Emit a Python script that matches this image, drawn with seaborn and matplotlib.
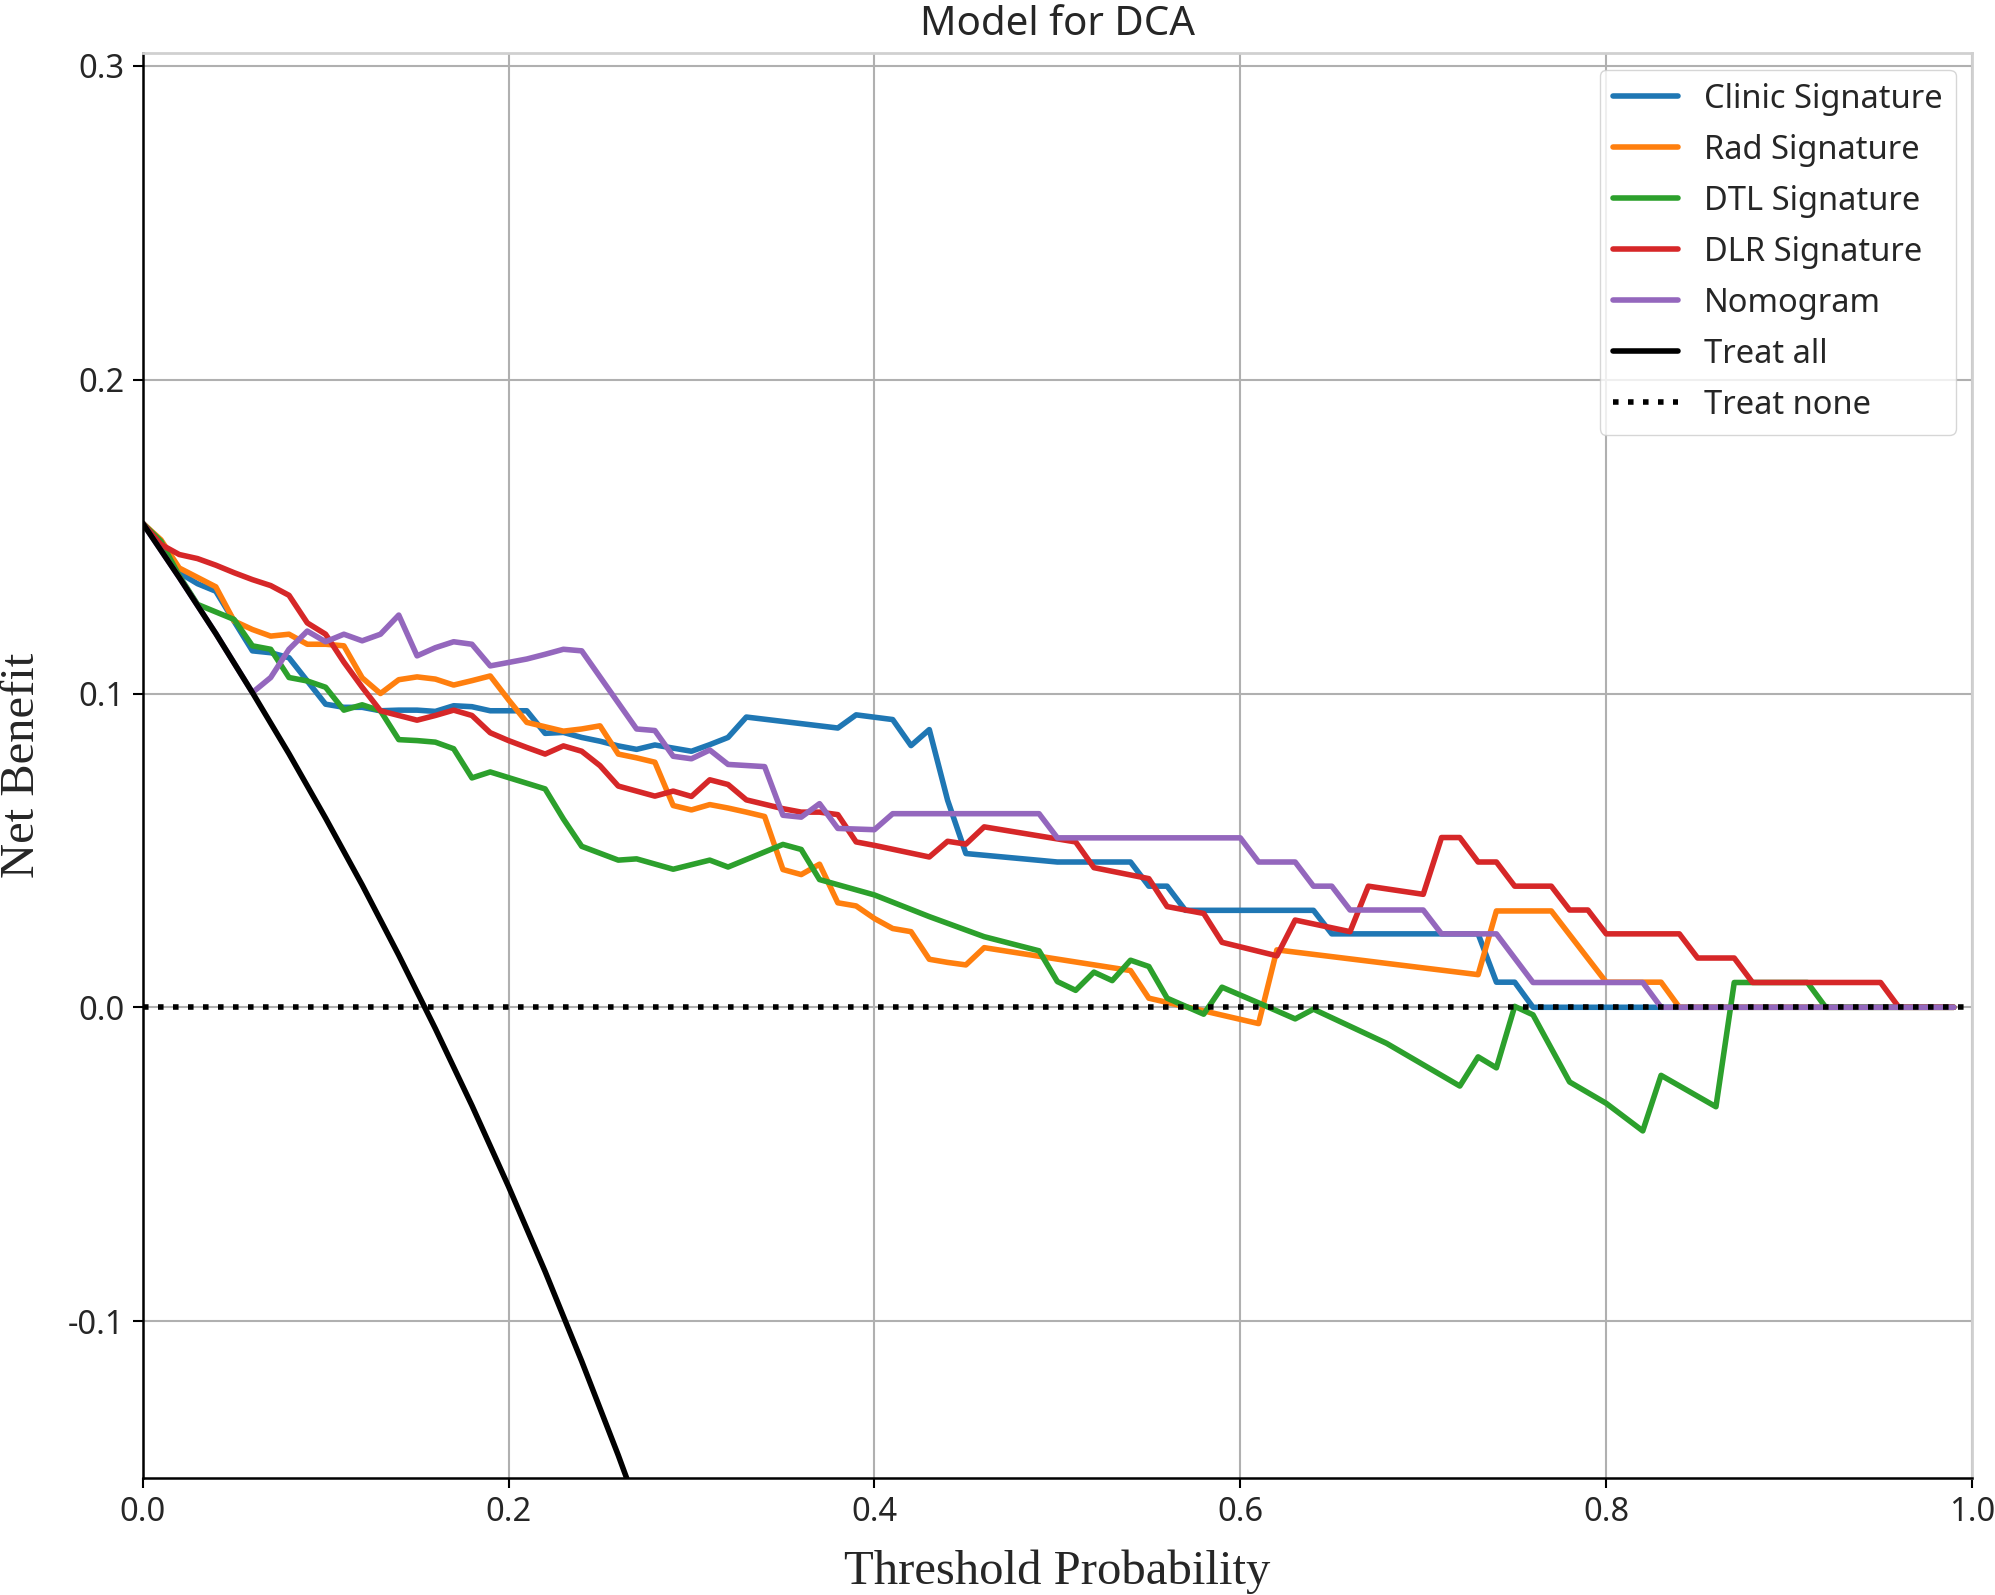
import matplotlib
matplotlib.use("Agg")
import matplotlib.pyplot as plt
import seaborn as sns

# Net benefit curves (threshold, net benefit)
clinic_t = [0.00, 0.01, 0.02, 0.03, 0.04, 0.05, 0.06, 0.07, 0.08, 0.09, 0.10, 0.11, 0.12, 0.13,
            0.14, 0.15, 0.16, 0.17, 0.18, 0.19, 0.20, 0.21, 0.22, 0.23, 0.24, 0.25, 0.26, 0.27,
            0.28, 0.29, 0.30, 0.31, 0.32, 0.33, 0.38, 0.39, 0.41, 0.42, 0.43, 0.44, 0.45, 0.50,
            0.54, 0.55, 0.56, 0.57, 0.64, 0.65, 0.73, 0.74, 0.75, 0.76, 0.99]
clinic_nb = [0.1543, 0.1480, 0.1385, 0.1350, 0.1326, 0.1230, 0.1136, 0.1130, 0.1114, 0.1040,
             0.0966, 0.0956, 0.0956, 0.0945, 0.0947, 0.0947, 0.0943, 0.0961, 0.0958, 0.0945,
             0.0945, 0.0945, 0.0873, 0.0876, 0.0860, 0.0848, 0.0833, 0.0822, 0.0836, 0.0826,
             0.0816, 0.0837, 0.0860, 0.0925, 0.0890, 0.0932, 0.0917, 0.0834, 0.0885, 0.0660,
             0.0490, 0.0463, 0.0463, 0.0386, 0.0386, 0.0309, 0.0309, 0.0234, 0.0234, 0.0080,
             0.0080, 0.0, 0.0]

rad_t = [0.00, 0.01, 0.02, 0.03, 0.04, 0.05, 0.06, 0.07, 0.08, 0.09, 0.10, 0.11, 0.12, 0.13,
         0.14, 0.15, 0.16, 0.17, 0.18, 0.19, 0.20, 0.21, 0.22, 0.23, 0.24, 0.25, 0.26, 0.27,
         0.28, 0.29, 0.30, 0.31, 0.32, 0.33, 0.34, 0.35, 0.36, 0.37, 0.38, 0.39, 0.40, 0.41,
         0.42, 0.43, 0.44, 0.45, 0.46, 0.54, 0.55, 0.61, 0.62, 0.73, 0.74, 0.77, 0.80, 0.83,
         0.84, 0.99]
rad_nb = [0.1543, 0.1490, 0.1400, 0.1370, 0.1340, 0.1231, 0.1204, 0.1183, 0.1189, 0.1157,
          0.1157, 0.1152, 0.1050, 0.1000, 0.1044, 0.1053, 0.1046, 0.1027, 0.1041, 0.1056,
          0.0980, 0.0908, 0.0894, 0.0880, 0.0887, 0.0897, 0.0807, 0.0795, 0.0781, 0.0643,
          0.0629, 0.0646, 0.0635, 0.0622, 0.0608, 0.0439, 0.0423, 0.0456, 0.0333, 0.0323,
          0.0283, 0.0251, 0.0241, 0.0153, 0.0143, 0.0135, 0.0190, 0.0117, 0.0029, -0.0052,
          0.0183, 0.0104, 0.0307, 0.0307, 0.0080, 0.0080, 0.0, 0.0]

dtl_t = [0.00, 0.01, 0.02, 0.03, 0.04, 0.05, 0.06, 0.07, 0.08, 0.09, 0.10, 0.11, 0.12, 0.13,
         0.14, 0.15, 0.16, 0.17, 0.18, 0.19, 0.22, 0.23, 0.24, 0.26, 0.27, 0.29, 0.31, 0.32,
         0.35, 0.36, 0.37, 0.40, 0.43, 0.46, 0.49, 0.50, 0.51, 0.52, 0.53, 0.54, 0.55, 0.56,
         0.58, 0.59, 0.61, 0.63, 0.64, 0.68, 0.72, 0.73, 0.74, 0.75, 0.76, 0.78, 0.80, 0.82,
         0.83, 0.86, 0.87, 0.91, 0.92, 0.99]
dtl_nb = [0.1543, 0.1485, 0.1375, 0.1284, 0.1260, 0.1236, 0.1152, 0.1141, 0.1051, 0.1040,
          0.1020, 0.0947, 0.0964, 0.0945, 0.0853, 0.0850, 0.0845, 0.0824, 0.0731, 0.0750,
          0.0696, 0.0600, 0.0513, 0.0469, 0.0473, 0.0440, 0.0469, 0.0447, 0.0519, 0.0503,
          0.0407, 0.0358, 0.0289, 0.0225, 0.0180, 0.0082, 0.0054, 0.0112, 0.0085, 0.0150,
          0.0130, 0.0029, -0.0022, 0.0064, 0.0014, -0.0037, -0.0006, -0.0115, -0.0251,
          -0.0158, -0.0193, 0.0003, -0.0024, -0.0238, -0.0306, -0.0394, -0.0217, -0.0317,
          0.0079, 0.0079, 0.0, 0.0]

dlr_t = [0.00, 0.01, 0.02, 0.03, 0.04, 0.05, 0.06, 0.07, 0.08, 0.09, 0.10, 0.11, 0.12, 0.13,
         0.14, 0.15, 0.16, 0.17, 0.18, 0.19, 0.20, 0.21, 0.22, 0.23, 0.24, 0.25, 0.26, 0.27,
         0.28, 0.29, 0.30, 0.31, 0.32, 0.33, 0.35, 0.36, 0.37, 0.38, 0.39, 0.40, 0.43, 0.44,
         0.45, 0.46, 0.51, 0.52, 0.55, 0.56, 0.58, 0.59, 0.62, 0.63, 0.66, 0.67, 0.70, 0.71,
         0.72, 0.73, 0.74, 0.75, 0.77, 0.78, 0.79, 0.80, 0.84, 0.85, 0.87, 0.88, 0.95, 0.96,
         0.99]
dlr_nb = [0.1543, 0.1475, 0.1443, 0.1430, 0.1409, 0.1385, 0.1363, 0.1344, 0.1313, 0.1225,
          0.1189, 0.1100, 0.1020, 0.0945, 0.0930, 0.0915, 0.0930, 0.0947, 0.0930, 0.0875,
          0.0850, 0.0828, 0.0807, 0.0833, 0.0816, 0.0770, 0.0705, 0.0689, 0.0673, 0.0689,
          0.0672, 0.0725, 0.0710, 0.0661, 0.0633, 0.0622, 0.0622, 0.0614, 0.0527, 0.0516,
          0.0479, 0.0529, 0.0520, 0.0575, 0.0527, 0.0445, 0.0410, 0.0321, 0.0299, 0.0207,
          0.0164, 0.0278, 0.0241, 0.0386, 0.0360, 0.0541, 0.0541, 0.0463, 0.0463, 0.0386,
          0.0386, 0.0310, 0.0310, 0.0234, 0.0234, 0.0157, 0.0157, 0.0079, 0.0079, 0.0, 0.0]

nomo_t = [0.00, 0.02, 0.04, 0.06, 0.07, 0.08, 0.09, 0.10, 0.11, 0.12, 0.13, 0.14, 0.15, 0.16,
          0.17, 0.18, 0.19, 0.20, 0.21, 0.22, 0.23, 0.24, 0.27, 0.28, 0.29, 0.30, 0.31, 0.32,
          0.34, 0.35, 0.36, 0.37, 0.38, 0.40, 0.41, 0.49, 0.50, 0.60, 0.61, 0.63, 0.64, 0.65,
          0.66, 0.70, 0.71, 0.74, 0.76, 0.82, 0.83, 0.99]
nomo_nb = [0.1543, 0.1370, 0.1191, 0.1003, 0.1051, 0.1141, 0.1199, 0.1165, 0.1189, 0.1168,
           0.1189, 0.1250, 0.1120, 0.1146, 0.1165, 0.1157, 0.1088, 0.1099, 0.1110, 0.1125,
           0.1141, 0.1136, 0.0887, 0.0882, 0.0800, 0.0792, 0.0820, 0.0774, 0.0767, 0.0612,
           0.0606, 0.0649, 0.0570, 0.0566, 0.0617, 0.0617, 0.0540, 0.0540, 0.0463, 0.0463,
           0.0386, 0.0386, 0.0310, 0.0310, 0.0234, 0.0234, 0.0079, 0.0079, 0.0, 0.0]

all_t = [0.00, 0.02, 0.04, 0.06, 0.08, 0.10, 0.12, 0.14, 0.16, 0.18, 0.20, 0.22, 0.24, 0.26, 0.28]
all_nb = [0.1543, 0.1370, 0.1191, 0.1003, 0.0808, 0.0603, 0.0390, 0.0166, -0.0068, -0.0313,
          -0.0571, -0.0842, -0.1128, -0.1428, -0.1746]

none_t = [0.0, 1.0]
none_nb = [0.0, 0.0]

model_names = ["Clinic Signature", "Rad Signature", "DTL Signature", "DLR Signature", "Nomogram"]

sns.set_style("whitegrid")
plt.rcParams['font.family'] = ['Noto Sans', 'DejaVu Sans']
plt.rcParams['axes.unicode_minus'] = False

colors = sns.color_palette("tab10", 5)
fig = plt.figure(figsize=(19.95, 15.95), dpi=100)
ax = fig.add_axes([0.0715, 0.0734, 0.917, 0.8931])

lw = 4.0
series = [(clinic_t, clinic_nb), (rad_t, rad_nb), (dtl_t, dtl_nb), (dlr_t, dlr_nb), (nomo_t, nomo_nb)]
for (t, nb), name, c in zip(series, model_names, colors):
    sns.lineplot(x=t, y=nb, ax=ax, color=c, linewidth=lw, label=name, sort=False)
sns.lineplot(x=all_t, y=all_nb, ax=ax, color="black", linewidth=lw, label="Treat all", sort=False)
sns.lineplot(x=none_t, y=none_nb, ax=ax, color="black", linewidth=lw, label="Treat none", sort=False,
             linestyle=(0, (1, 1.7)))

ax.set_xlim(0, 1)
ax.set_ylim(-0.15, 0.304)
ax.set_xticks([0, 0.2, 0.4, 0.6, 0.8, 1.0])
ax.set_xticklabels(["0.0", "0.2", "0.4", "0.6", "0.8", "1.0"])
ax.set_yticks([-0.1, 0.0, 0.1, 0.2, 0.3])
ax.set_yticklabels(["-0.1", "0.0", "0.1", "0.2", "0.3"])
ax.tick_params(axis="both", labelsize=23.5, length=7, width=1.5, color="black", direction="out",
               left=True, bottom=True, pad=6)
ax.grid(True, color="#b0b0b0", lw=1.5)

for side in ["left", "bottom"]:
    ax.spines[side].set_color("black")
    ax.spines[side].set_linewidth(1.8)
for side in ["top", "right"]:
    ax.spines[side].set_color("#d0d0d0")
    ax.spines[side].set_linewidth(2)

ax.set_title("Model for DCA", fontsize=29, pad=13)
ax.set_xlabel("Threshold Probability", fontsize=35, family="Liberation Serif", labelpad=15)
ax.set_ylabel("Net Benefit", fontsize=35, family="Liberation Serif", labelpad=17)

leg = ax.legend(loc="upper right", fontsize=23.5, frameon=True, framealpha=0.8, edgecolor="#cccccc",
                fancybox=True, labelspacing=0.55)
for h in leg.get_lines():
    h.set_linewidth(lw)

fig.savefig("out.png", dpi=100)
